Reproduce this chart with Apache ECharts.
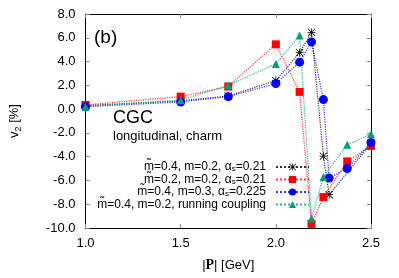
<!DOCTYPE html>
<html><head><meta charset="utf-8">
<script src="https://cdn.jsdelivr.net/npm/echarts@6/dist/echarts.min.js"></script>
<style>html,body{margin:0;padding:0;background:#fff}#c{width:399px;height:278px}</style>
</head><body><div id="c"></div>
<script>
// Data
const seriesNames = ['s1', 's2', 's3', 's4'];
const legendLabels = [
  '{t|m\u0303=0.4, m=0.2, α}{s|s}{t|=0.21}',
  '{t|m\u0303=0.2, m=0.2, α}{s|s}{t|=0.21}',
  '{t|m\u0303=0.4, m=0.3, α}{s|s}{t|=0.225}',
  '{t|m\u0303=0.4, m=0.2, running coupling}'
];
const xBlack = [1.0, 1.5, 1.75, 2.0, 2.125, 2.1875, 2.25, 2.28, 2.5];
const yBlack = [0.3, 0.7, 1.1, 2.4, 4.75, 6.45, -3.95, -7.2, -2.9];
const xRed = [1.0, 1.5, 1.75, 2.0, 2.125, 2.1875, 2.25, 2.375, 2.5];
const yRed = [0.35, 1.05, 1.9, 5.45, 1.45, -9.65, -7.4, -4.4, -3.1];
const xBlue = [1.0, 1.5, 1.75, 2.0, 2.125, 2.1875, 2.25, 2.28, 2.375, 2.5];
const yBlue = [0.2, 0.6, 1.05, 2.15, 3.95, 5.65, 0.8, -5.8, -5.0, -2.8];
const xGreen = [1.0, 1.5, 1.75, 2.0, 2.125, 2.1875, 2.25, 2.375, 2.5];
const yGreen = [0.2, 0.75, 2.0, 3.8, 6.2, -9.2, -5.7, -3.0, -2.1];
const xTicks = [1.0, 1.5, 2.0, 2.5];
const yTicks = [-10, -8, -6, -4, -2, 0, 2, 4, 6, 8];

const FONT = 'Liberation Sans';
const starPath = 'path://M0,4.5L10,4.5L10,5.5L0,5.5Z M4.5,0L5.5,0L5.5,10L4.5,10Z M0.8,0.1L9.9,9.2L9.2,9.9L0.1,0.8Z M9.2,0.1L9.9,0.8L0.8,9.9L0.1,9.2Z';
const zip = (xs, ys) => xs.map((x, i) => [x, ys[i]]);
const colors = ['#000000', '#ff0000', '#0000ff', '#009e73'];
const symbols = [starPath, 'rect', 'circle', 'triangle'];
const sizes = [8, 8, 9, 8];
const datas = [zip(xBlack, yBlack), zip(xRed, yRed), zip(xBlue, yBlue), zip(xGreen, yGreen)];

const chart = echarts.init(document.getElementById('c'), null, {renderer: 'canvas'});
const tickStyle = {show: true, inside: true, length: 4, lineStyle: {color: '#888', width: 1}};
chart.setOption({
  animation: false,
  backgroundColor: '#fff',
  grid: {left: 84, right: 28, top: 14, bottom: 50},
  xAxis: [{
    type: 'value', min: 1.0, max: 2.5, interval: 0.5, position: 'bottom',
    axisLine: {show: true, onZero: false, lineStyle: {color: '#000', width: 1}},
    axisTick: tickStyle, splitLine: {show: false},
    axisLabel: {fontFamily: FONT, fontSize: 13, color: '#000', margin: 9, formatter: v => v.toFixed(1)},
    name: '|{b|P}| [GeV]', nameLocation: 'middle', nameGap: 30,
    nameTextStyle: {fontFamily: FONT, fontSize: 13, color: '#000',
      rich: {b: {fontFamily: 'Liberation Serif', fontWeight: 'bold', fontSize: 14, color: '#000'}}}
  }, {
    type: 'value', min: 1.0, max: 2.5, interval: 0.5, position: 'top',
    axisLine: {show: true, onZero: false, lineStyle: {color: '#000', width: 1}},
    axisTick: tickStyle, axisLabel: {show: false}, splitLine: {show: false}
  }],
  yAxis: [{
    type: 'value', min: -10, max: 8, interval: 2, position: 'left',
    axisLine: {show: true, onZero: false, lineStyle: {color: '#000', width: 1}},
    axisTick: tickStyle, splitLine: {show: false},
    axisLabel: {fontFamily: FONT, fontSize: 13, color: '#000', margin: 10, formatter: v => v.toFixed(1)},
    name: '{t|v}{s|2}{t| [%]}', nameLocation: 'middle', nameGap: 62,
    nameTextStyle: {fontFamily: FONT, fontSize: 13, color: '#000',
      rich: {t: {fontFamily: FONT, fontSize: 13, color: '#000'},
             s: {fontFamily: FONT, fontSize: 9, color: '#000', verticalAlign: 'bottom', lineHeight: 18}}}
  }, {
    type: 'value', min: -10, max: 8, interval: 2, position: 'right',
    axisLine: {show: true, onZero: false, lineStyle: {color: '#000', width: 1}},
    axisTick: tickStyle, axisLabel: {show: false}, splitLine: {show: false}
  }],
  legend: {
    orient: 'vertical', align: 'right', right: 89, top: 161, padding: 0,
    itemWidth: 33, itemHeight: 9, itemGap: 0.5,
    data: seriesNames,
    formatter: name => legendLabels[seriesNames.indexOf(name)],
    textStyle: {fontFamily: FONT, fontSize: 12, color: '#000', padding: [0, 5, 0, 0],
      rich: {t: {fontFamily: FONT, fontSize: 12, color: '#000', lineHeight: 12},
             s: {fontFamily: FONT, fontSize: 8, color: '#000', verticalAlign: 'bottom', lineHeight: 12}}}
  },
  graphic: [
    {type: 'text', left: 94, top: 28, style: {text: '(b)', font: '19px "Liberation Sans"', fill: '#000'}},
    {type: 'text', left: 113, top: 109, style: {text: 'CGC', font: '18px "Liberation Sans"', fill: '#000'}},
    {type: 'text', left: 113, top: 130, style: {text: 'longitudinal, charm', font: '13px "Liberation Sans"', fill: '#000'}}
  ],
  series: seriesNames.map((n, i) => ({
    name: n, type: 'line', xAxisIndex: 0, yAxisIndex: 0,
    data: datas[i], symbol: symbols[i], symbolSize: sizes[i],
    itemStyle: {color: colors[i]},
    lineStyle: {color: colors[i], width: 1.2, type: 'dotted', opacity: 0.8},
    showSymbol: true
  }))
});
</script></body></html>
